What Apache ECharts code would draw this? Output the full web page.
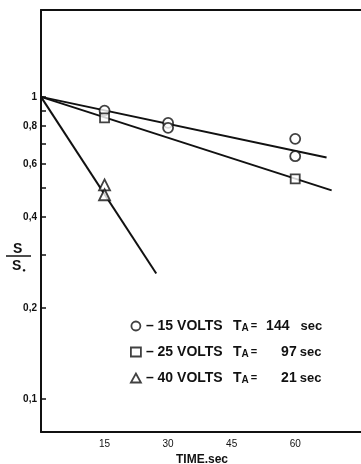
<!DOCTYPE html>
<html><head><meta charset="utf-8">
<script src="https://cdn.jsdelivr.net/npm/echarts@6/dist/echarts.min.js"></script>
<style>html,body{margin:0;padding:0;background:#fff}#c{width:361px;height:464px}</style>
</head><body><div id="c"></div>
<script>
// ---- data ----
const xTicks = [15, 30, 45, 60];
const yTickValues = [0.1, 0.2, 0.3, 0.4, 0.5, 0.6, 0.7, 0.8, 0.9, 1];
const yLabelValues = [0.1, 0.2, 0.4, 0.6, 0.8, 1];
const yLabelText = {0.1: '0,1', 0.2: '0,2', 0.4: '0,4', 0.6: '0,6', 0.8: '0,8', 1: '1'};

const seriesNames = ['15 VOLTS', '25 VOLTS', '40 VOLTS'];
const halfTimes = ['144', '97', '21'];

const pts15 = [[15, 0.90], [30, 0.82], [30, 0.79], [60, 0.726], [60, 0.636]];
const pts25 = [[15, 0.852], [60, 0.535]];
const pts40 = [[15, 0.511], [15, 0.474]];

const fit15 = [[0, 1], [67.4, 0.63]];
const fit25 = [[0, 1], [68.6, 0.49]];
const fit40 = [[0, 1], [27.2, 0.26]];

const INK = '#111';
const FONT = 'Liberation Sans';

function fitLine(d) {
  return { type: 'line', data: d, symbol: 'none', silent: true,
    lineStyle: { color: INK, width: 2 }, z: 2 };
}
function pts(name, d, sym, size) {
  return { type: 'scatter', name: name, data: d, symbol: sym, symbolSize: size,
    itemStyle: { color: '#fff', borderColor: INK, borderWidth: 1.8 }, z: 3 };
}
const B = { fontFamily: FONT, fontWeight: 'bold', color: INK };

const chart = echarts.init(document.getElementById('c'));
chart.setOption({
  animation: false,
  backgroundColor: '#fff',
  grid: { left: 41, top: 10, right: -2, bottom: 32, containLabel: false, outerBoundsMode: 'none' },
  xAxis: [{
    type: 'value', min: 0, max: 76, interval: 15,
    axisLine: { show: true, lineStyle: { color: INK, width: 2 } },
    axisTick: { show: false },
    splitLine: { show: false },
    axisLabel: { customValues: xTicks, color: INK, fontFamily: FONT, fontSize: 10, margin: 7 },
    name: 'TIME.sec', nameLocation: 'middle', nameGap: 21,
    nameTextStyle: { color: INK, fontFamily: FONT, fontSize: 12, fontWeight: 'bold' }
  }, {
    type: 'value', position: 'top', min: 0, max: 76,
    axisLine: { show: true, onZero: false, lineStyle: { color: INK, width: 2 } },
    axisTick: { show: false }, axisLabel: { show: false }, splitLine: { show: false }
  }],
  yAxis: {
    type: 'log', min: 0.0776, max: 1.94,
    axisLine: { show: true, lineStyle: { color: INK, width: 2 } },
    axisTick: { show: true, inside: true, length: 5, customValues: yTickValues, lineStyle: { color: INK, width: 1.5 } },
    minorTick: { show: false },
    splitLine: { show: false },
    axisLabel: { customValues: yLabelValues, color: INK, fontFamily: FONT, fontSize: 10, fontWeight: 'bold', margin: 4,
      formatter: v => yLabelText[Math.round(v * 10) / 10] !== undefined ? yLabelText[Math.round(v * 10) / 10] : '' }
  },
  legend: {
    data: seriesNames, orient: 'vertical', left: 130, top: 319, padding: 0,
    itemWidth: 10, itemHeight: 9, itemGap: 12,
    itemStyle: { color: '#fff', borderColor: INK, borderWidth: 1.8 },
    formatter: name => {
      const i = seriesNames.indexOf(name);
      const n = halfTimes[i];
      return '{lab|– ' + name + '}{t|T}{sub|A}{eq|=}{n' + n.length + '|' + n + '}{sec|sec}';
    },
    textStyle: Object.assign({ fontSize: 13, lineHeight: 14 }, B, {
      rich: {
        lab: Object.assign({ fontSize: 14, width: 87 }, B),
        t: Object.assign({ fontSize: 14 }, B),
        sub: Object.assign({ fontSize: 10, verticalAlign: 'bottom', padding: [7, 0, 0, 0] }, B),
        eq: Object.assign({ fontSize: 11, padding: [0, 2, 0, 2] }, B),
        n3: Object.assign({ fontSize: 14, padding: [0, 11, 0, 7] }, B),
        n2: Object.assign({ fontSize: 14, padding: [0, 3, 0, 22] }, B),
        n1: Object.assign({ fontSize: 14, padding: [0, 3, 0, 30] }, B),
        sec: Object.assign({ fontSize: 13 }, B)
      }
    })
  },
  graphic: [
    { type: 'text', left: 13, top: 242, style: { text: 'S', font: 'bold 14px ' + FONT, fill: INK } },
    { type: 'line', shape: { x1: 6, y1: 256, x2: 31, y2: 256 }, style: { stroke: INK, lineWidth: 1.5 } },
    { type: 'text', left: 12, top: 259, style: { text: '{s|S}{o|●}', rich: {
      s: { font: 'bold 14px ' + FONT, fill: INK },
      o: { fontSize: 6, fill: INK, verticalAlign: 'bottom', padding: [6, 0, 0, 1] } } } }
  ],
  series: [
    fitLine(fit15), fitLine(fit25), fitLine(fit40),
    pts(seriesNames[0], pts15, 'circle', 10),
    pts(seriesNames[1], pts25, 'rect', 9),
    pts(seriesNames[2], pts40, 'triangle', 11)
  ]
});
</script></body></html>
